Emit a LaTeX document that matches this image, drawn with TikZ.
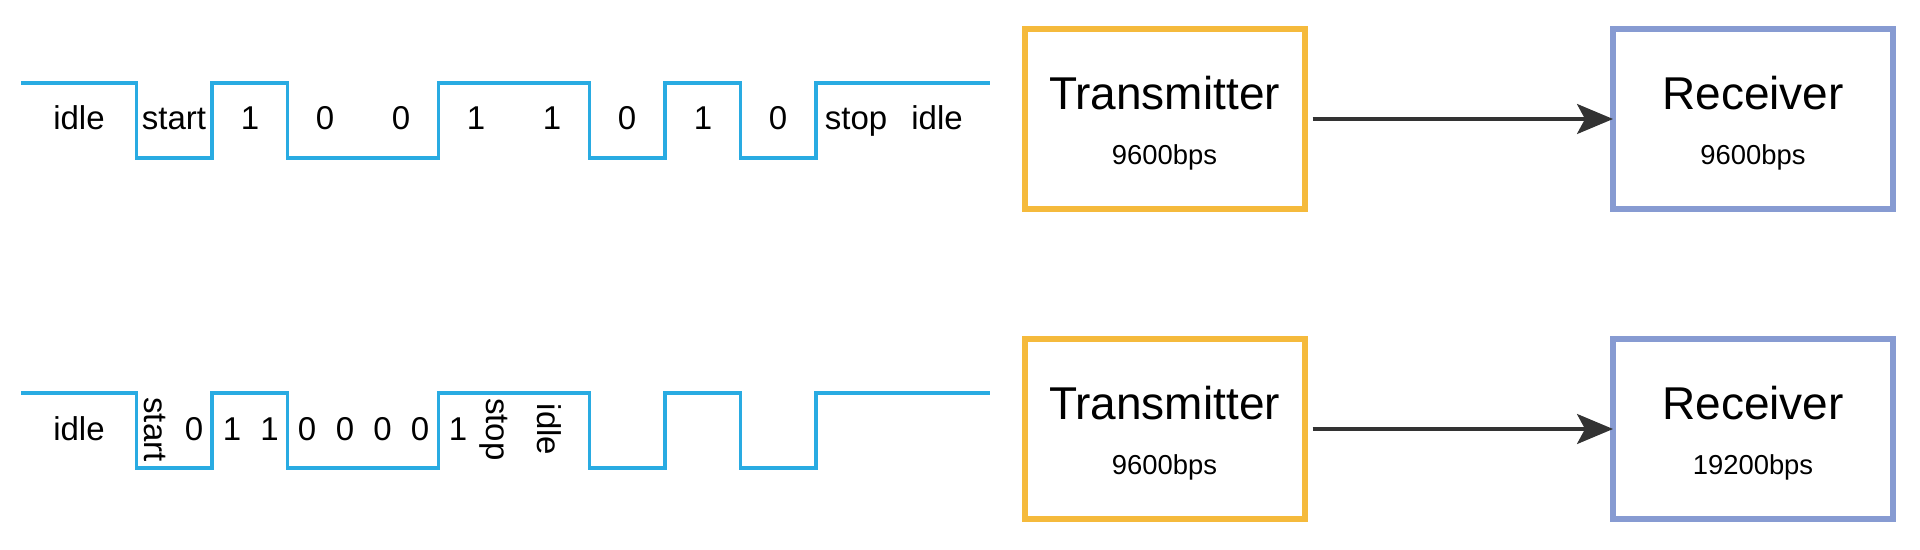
\documentclass[tikz,border=0pt]{standalone}
\usepackage{fontspec}
\setmainfont{Liberation Sans}
\usetikzlibrary{arrows.meta}
\definecolor{wireblue}{RGB}{41,171,226}
\definecolor{txyellow}{RGB}{245,186,60}
\definecolor{rxblue}{RGB}{135,155,210}
\definecolor{linkgray}{RGB}{51,51,51}

\begin{document}
\begin{tikzpicture}[x=0.5pt, y=-0.5pt,
    wave/.style={wireblue, line width=1.7pt},
    bit/.style={anchor=base, inner sep=0pt, font=\fontsize{16.5}{20}\selectfont},
    vbit/.style={rotate=-90, inner sep=0pt, font=\fontsize{16.5}{20}\selectfont},
    unit/.style={rectangle, draw, line width=3pt, outer sep=0pt, inner sep=0pt,
      minimum width=140pt, minimum height=90pt},
    link/.style={-{Stealth[length=18pt, width=15pt, inset=4pt]}, linkgray,
      line width=1.65pt, shorten <=4pt}]
      \useasboundingbox (0,0) rectangle (1920,550);

      % same speed on both sides
      \draw[wave] (21,83) -| (136.5,158) -| (212,83) -| (287.5,158) -| (438.5,83)
        -| (589.5,158) -| (665,83) -| (740.5,158) -| (816,83) -- (990,83);
      \node (tidle) [bit] at (79,130) {idle};
      \node (tstart) [bit] at (174,130) {start};
      \node (tb0) [bit] at (250,130) {1};
      \node (tb1) [bit] at (325,130) {0};
      \node (tb2) [bit] at (401,130) {0};
      \node (tb3) [bit] at (476,130) {1};
      \node (tb4) [bit] at (552,130) {1};
      \node (tb5) [bit] at (627,130) {0};
      \node (tb6) [bit] at (703,130) {1};
      \node (tb7) [bit] at (778,130) {0};
      \node (tstop) [bit] at (856,130) {stop};
      \node (tend) [bit] at (937,130) {idle};

      \node (tx1) [unit, draw=txyellow] at (1164.5,119) {
        \begin{tabular}{c}
          \fontsize{23}{27}\selectfont\rule{0pt}{21.6pt}Transmitter \\[13.6pt]
          \fontsize{13.7}{16}\selectfont 9600bps
        \end{tabular}
      };
      \node (rx1) [unit, draw=rxblue] at (1753,119) {
        \begin{tabular}{c}
          \fontsize{23}{27}\selectfont\rule{0pt}{21.6pt}Receiver \\[13.6pt]
          \fontsize{13.7}{16}\selectfont 9600bps
        \end{tabular}
      };
      \draw[link] (tx1) -- (rx1);

      % receiver twice as fast
      \draw[wave] (21,393) -| (136.5,468) -| (212,393) -| (287.5,468) -| (438.5,393)
        -| (589.5,468) -| (665,393) -| (740.5,468) -| (816,393) -- (990,393);
      \node (bidle) [bit] at (79,440) {idle};
      \node (bstart) [vbit] at (155,429.5) {start};
      \node (bb0) [bit] at (194,440) {0};
      \node (bb1) [bit] at (232,440) {1};
      \node (bb2) [bit] at (269.5,440) {1};
      \node (bb3) [bit] at (307,440) {0};
      \node (bb4) [bit] at (345,440) {0};
      \node (bb5) [bit] at (382.5,440) {0};
      \node (bb6) [bit] at (420,440) {0};
      \node (bb7) [bit] at (458,440) {1};
      \node (bstop) [vbit] at (494,429.5) {stop};
      \node (bend) [vbit] at (549.5,429.5) {idle};

      \node (tx2) [unit, draw=txyellow] at (1164.5,429) {
        \begin{tabular}{c}
          \fontsize{23}{27}\selectfont\rule{0pt}{21.6pt}Transmitter \\[13.6pt]
          \fontsize{13.7}{16}\selectfont 9600bps
        \end{tabular}
      };
      \node (rx2) [unit, draw=rxblue] at (1753,429) {
        \begin{tabular}{c}
          \fontsize{23}{27}\selectfont\rule{0pt}{21.6pt}Receiver \\[13.6pt]
          \fontsize{13.7}{16}\selectfont 19200bps
        \end{tabular}
      };
      \draw[link] (tx2) -- (rx2);
    \end{tikzpicture}
\end{document}
